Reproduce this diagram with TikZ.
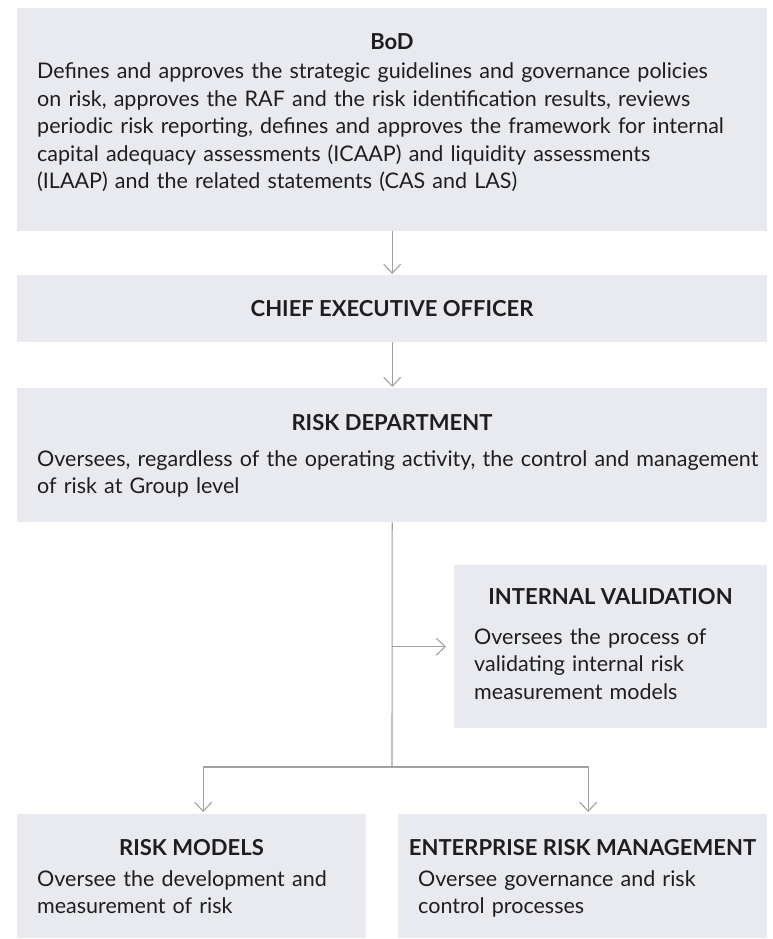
\documentclass[tikz,border=0pt]{standalone}
\usepackage{fontspec}
\setmainfont{Lato}
\usepackage{xcolor}
\definecolor{boxgray}{RGB}{233,234,239}
\definecolor{linegray}{RGB}{160,160,160}
\definecolor{textdark}{RGB}{30,30,30}
\usetikzlibrary{arrows.meta, positioning}

\begin{document}
\begin{tikzpicture}[x=1pt, y=-1pt,
    >={Straight Barb[length=9pt, width=17pt]},
    panel/.style={fill=boxgray, draw=none, anchor=north west, inner sep=0pt},
    head/.style={anchor=base, inner sep=0pt, text=textdark, font=\fontsize{22}{26}\selectfont\bfseries},
    body/.style={anchor=base west, inner sep=0pt, text=textdark, align=left, font=\fontsize{21.5}{27.5}\selectfont},
    link/.style={draw=linegray, line width=1.1pt}]

\useasboundingbox (0,0) rectangle (772,939);

% === BoD ===
\node[panel, minimum width=750pt, minimum height=223pt] (bod) at (17,8) {};
\node[head] (bodhead) at (392,50) {BoD};
\node[body, text width=735pt] (bodtext) at (37,79) {Defines and approves the strategic guidelines and governance policies\\
    on risk, approves the RAF and the risk identification results, reviews\\
    periodic risk reporting, defines and approves the framework for internal\\
    capital adequacy assessments (ICAAP) and liquidity assessments\\
    (ILAAP) and the related statements (CAS and LAS)};

% === Chief Executive Officer ===
\node[panel, minimum width=750pt, minimum height=67pt] (ceo) at (17,275) {};
\node[head] (ceohead) at (392,316) {CHIEF EXECUTIVE OFFICER};

% === Risk Department ===
\node[panel, minimum width=750pt, minimum height=134pt] (risk) at (17,388) {};
\node[head] (riskhead) at (392,430) {RISK DEPARTMENT};
\node[body, text width=735pt] (risktext) at (37,466) {Oversees, regardless of the operating activity, the control and management\\
    of risk at Group level};

% === Internal Validation ===
\node[panel, minimum width=313pt, minimum height=163pt] (iv) at (454,565) {};
\node[head] (ivhead) at (610.5,604) {INTERNAL VALIDATION};
\node[body, text width=290pt] (ivtext) at (474,644) {Oversees the process of\\
    validating internal risk\\
    measurement models};

% === Risk Models ===
\node[panel, minimum width=349pt, minimum height=124pt] (models) at (17,814) {};
\node[head] (modelshead) at (191.5,855) {RISK MODELS};
\node[body, text width=330pt] (modelstext) at (37,886) {Oversee the development and\\
    measurement of risk};

% === Enterprise Risk Management ===
\node[panel, minimum width=369pt, minimum height=124pt] (erm) at (398,814) {};
\node[head] (ermhead) at (582.5,855) {ENTERPRISE RISK MANAGEMENT};
\node[body, text width=345pt] (ermtext) at (418,886) {Oversee governance and risk\\
    control processes};

% === Connectors ===
\draw[link, ->, shorten >=1pt] (bod.south) -- (ceo.north);
\draw[link, ->, shorten >=1pt] (ceo.south) -- (risk.north);
\coordinate (fork) at (392,767);
\draw[link] (risk.south) -- (fork);
\draw[link, ->, shorten >=8pt] (risk.south |- iv.west) -- (iv.west);
\draw[link, ->, shorten >=2pt] (fork) -| ([xshift=11.5pt]models.north);
\draw[link, ->, shorten >=2pt] (fork) -| ([xshift=5.5pt]erm.north);

\end{tikzpicture}
\end{document}
